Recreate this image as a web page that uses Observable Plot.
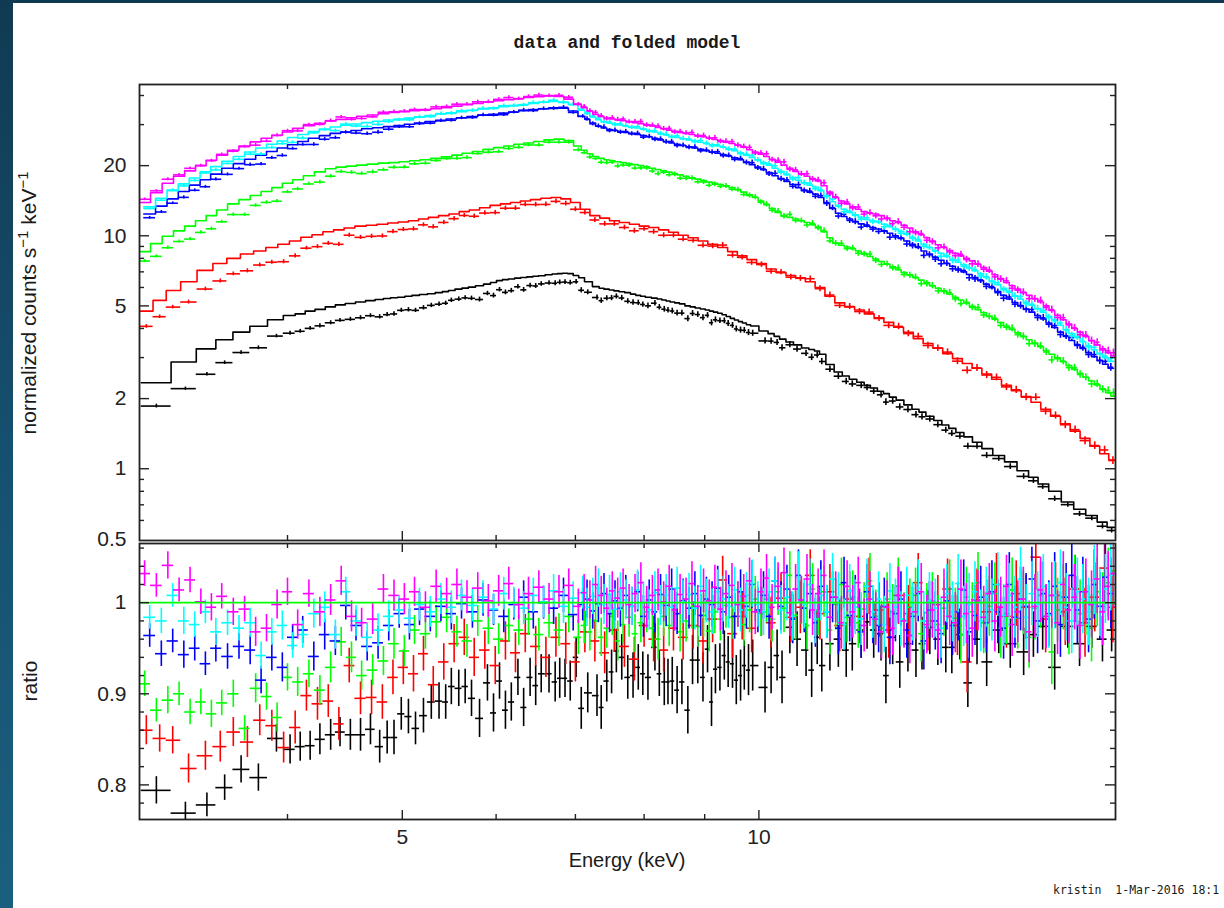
<!DOCTYPE html>
<html>
<head>
<meta charset="utf-8">
<script src="https://cdn.jsdelivr.net/npm/d3@7"></script>
<script src="https://cdn.jsdelivr.net/npm/@observablehq/plot@0.6"></script>
<style>
html, body { margin: 0; padding: 0; }
body { width: 1224px; height: 908px; overflow: hidden; position: relative;
       background: linear-gradient(180deg, #103a52 0%, #165070 50%, #1b5f7e 100%); }
#paper { position: absolute; left: 13px; top: 3px; width: 1211px; height: 905px; background: #ffffff; }
#chart { position: absolute; left: 0; top: 0; width: 1224px; height: 908px; }
#chart svg { position: absolute; left: 0; top: 0; }
.txt { position: absolute; white-space: pre; color: #1a1a1a; }
#title { left: 139px; width: 976px; top: 34px; text-align: center; font: bold 18px/18px "Liberation Mono", "DejaVu Sans Mono", monospace; }
#ylab { left: 29px; top: 303px; font: 21px/22px "Liberation Sans", Arial, sans-serif; transform: translate(-50%, -50%) rotate(-90deg); }
#ylab sup { font-size: 15px; vertical-align: 8px; line-height: 0; }
#rlab { left: 30px; top: 681px; font: 21px/22px "Liberation Sans", Arial, sans-serif; transform: translate(-50%, -50%) rotate(-90deg); }
#xlab { left: 139px; width: 976px; top: 850px; text-align: center; font: 20px/20px "Liberation Sans", Arial, sans-serif; }
#foot { left: 1053px; top: 884px; font: 11.5px/12px "DejaVu Sans Mono", monospace; }
</style>
</head>
<body>
<div id="paper"></div>
<div id="chart"></div>
<div class="txt" id="title">data and folded model</div>
<div class="txt" id="ylab">normalized counts s<sup>−1</sup> keV<sup>−1</sup></div>
<div class="txt" id="rlab">ratio</div>
<div class="txt" id="xlab">Energy (keV)</div>
<div class="txt" id="foot">kristin  1-Mar-2016 18:1</div>
<script>
// ---------------- data ----------------
// Black spectrum: bin centres (keV), folded model, data/model ratio, ratio error
const energyBlack = [
  3.10,3.28,3.42,3.54,3.655,3.78,3.915,4.02,
  4.10,4.18,4.26,4.35,4.43,4.52,4.61,4.70,4.785,4.855,4.92,4.99,
  5.06,5.13,5.21,5.29,5.37,5.44,5.50,5.58,5.65,5.72,5.81,5.90,5.97,
  6.04,6.11,6.18,6.26,6.33,6.41,6.48,6.55,6.65,6.73,6.79,6.86,6.93,7.01,7.08,7.17,
  7.30,7.36,7.44,7.51,7.58,7.66,7.75,7.83,7.91,7.98,8.06,8.17,8.24,8.32,8.38,8.45,
  8.53,8.61,8.71,8.79,8.88,8.97,9.05,9.12,9.19,9.27,9.35,9.42,9.50,9.57,9.65,9.72,9.80,9.88,
  10.12,10.24,10.36,10.46,10.62,10.77,10.96,11.08,11.2,11.3,11.48,11.67,11.85,11.99,12.2,12.34,12.5,12.68,12.8,
  12.97,13.15,13.36,13.57,13.73,13.94,14.16,14.38,14.55,14.78,15.01,15.28,15.57,15.94,16.3,16.73,17.05,17.36,17.77,18.23,18.65,19.1,19.5,19.85
];
const modelBlack = [
  2.34,2.87,3.27,3.58,3.86,4.09,4.36,4.55,
  4.62,4.75,4.83,4.95,5.05,5.12,5.2,5.27,5.33,5.38,5.42,5.45,
  5.5,5.55,5.6,5.64,5.7,5.76,5.82,5.9,5.96,6.02,6.1,6.2,6.3,
  6.42,6.48,6.52,6.58,6.62,6.66,6.7,6.74,6.8,6.85,6.88,6.9,6.88,6.75,6.6,6.35,
  6.05,5.95,5.9,5.85,5.8,5.75,5.7,5.62,5.55,5.5,5.45,5.4,5.35,5.3,5.25,5.2,
  5.15,5.1,5.0,4.95,4.9,4.85,4.8,4.75,4.7,4.65,4.58,4.5,4.42,4.35,4.28,4.22,4.15,4.1,
  3.9,3.8,3.7,3.6,3.5,3.4,3.3,3.25,3.2,3.1,2.8,2.6,2.5,2.42,2.35,2.28,2.22,2.15,2.1,
  2.03,1.97,1.88,1.8,1.75,1.68,1.61,1.54,1.49,1.43,1.37,1.3,1.22,1.14,1.07,0.98,0.92,0.86,0.8,0.72,0.67,0.63,0.59,0.56
];
const ratioBlack = [
  .794,.769,.778,.797,.817,.808,.851,.839,
  .842,.843,.850,.855,.858,.855,.855,.861,.842,.852,.852,.878,
  .875,.862,.876,.891,.892,.891,.908,.906,.908,.895,.873,.912,.879,
  .914,.882,.891,.918,.885,.918,.909,.922,.922,.913,.917,.917,.914,.940,.884,.901,
  .898,.885,.914,.924,.947,.940,.918,.920,.929,.922,.918,.951,.922,.913,.913,.914,
  .904,.913,.882,.937,.937,.918,.949,.891,.927,.929,.942,.935,.933,.915,.920,.931,.926,.931,
  .907,.929,.942,.918,.973,.960,.948,.926,.962,.931,.955,.960,.948,.955,.970,.979,.970,.966,.920,
  .962,.935,.955,.948,.955,.973,.960,.951,.951,.965,.912,.960,.935,.970,.955,.946,.965,.974,.929,.974,.955,.974,.960,.970
];
const errBlack = [
  .015,.012,.013,.014,.015,.015,.015,.016,
  .016,.016,.017,.017,.016,.017,.018,.017,.018,.018,.019,.018,
  .019,.018,.019,.019,.020,.019,.020,.020,.019,.020,.021,.020,.021,
  .020,.021,.021,.020,.021,.021,.022,.021,.021,.022,.022,.021,.022,.022,.023,.022,
  .023,.024,.023,.024,.024,.025,.024,.025,.025,.024,.025,.026,.025,.026,.025,.026,
  .026,.025,.026,.027,.026,.027,.026,.027,.027,.026,.027,.028,.027,.027,.028,.027,.028,.028,
  .028,.029,.028,.029,.029,.030,.029,.030,.030,.029,.030,.031,.030,.030,.031,.030,.031,.030,.031,
  .030,.029,.031,.030,.029,.030,.029,.028,.029,.028,.027,.028,.027,.026,.027,.026,.025,.026,.025,.024,.025,.024,.025,.024
];

// Red spectrum
const energyRed = [
  3.04,3.12,3.20,3.30,3.41,3.51,3.60,3.70,3.79,3.88,
  3.97,4.06,4.15,4.24,4.33,4.42,4.51,4.61,4.71,4.81,4.91,
  5.01,5.11,5.21,5.31,5.42,5.53,5.64,5.75,5.87,5.99,
  6.11,6.23,6.35,6.48,6.61,6.74,6.87,7.00,7.13,7.27,
  7.41,7.55,7.70,7.85,8.00,8.15,8.31,8.47,8.63,8.80,
  8.97,9.14,9.32,9.50,9.68,9.86,
  10.05,10.24,10.44,10.64,10.84,11.05,11.26,11.48,11.70,11.93,
  12.16,12.39,12.63,12.87,13.12,13.37,13.63,13.89,14.16,14.43,
  14.71,14.99,15.28,15.57,15.87,16.18,16.49,16.81,17.13,17.46,
  17.80,18.14,18.49,18.85,19.21,19.58,19.90
];
const modelRed = [
  4.75,5.28,5.82,6.35,7.1,7.6,8.0,8.35,8.6,8.9,
  9.2,9.5,9.85,10.1,10.4,10.6,10.8,11.0,11.1,11.2,11.35,
  11.45,11.6,11.8,12.0,12.2,12.4,12.7,12.9,13.2,13.5,
  13.7,13.9,14.1,14.3,14.5,14.6,14.4,13.9,13.0,12.2,
  11.9,11.6,11.4,11.2,11.0,10.85,10.6,10.35,10.05,9.8,
  9.5,9.2,8.9,8.55,8.2,7.9,
  7.6,7.2,6.95,6.75,6.6,6.35,6.0,5.5,5.15,4.95,
  4.8,4.62,4.45,4.25,4.05,3.85,3.62,3.45,3.3,3.12,
  2.97,2.83,2.7,2.55,2.42,2.28,2.16,2.04,1.93,1.8,
  1.68,1.56,1.45,1.35,1.25,1.16,1.09
];
const ratioRed = [
  .860,.851,.849,.818,.832,.842,.858,.847,.871,.865,
  .841,.863,.898,.889,.892,.867,.931,.895,.896,.891,.918,
  .929,.922,.944,.910,.935,.955,.962,.940,.948,.931,
  .958,.945,.966,.952,.940,.962,.955,.935,.968,.958,
  .945,.970,.952,.938,.975,.960,.948,.972,.962,.975,
  .958,.982,1.025,.966,.985,.972,
  .990,.978,1.005,.984,.995,1.030,.988,1.012,.975,1.004,
  .985,1.018,.992,.970,1.008,.988,1.022,.980,.998,1.015,
  .975,.935,1.003,.990,1.020,.985,1.010,.995,1.050,.982,
  1.008,.990,1.015,.978,1.006,1.038,.995
];
const errRed = [
  .016,.015,.015,.016,.016,.017,.016,.017,.017,.017,
  .017,.018,.017,.018,.018,.018,.019,.018,.019,.019,.019,
  .019,.020,.019,.020,.020,.021,.020,.021,.021,.021,
  .021,.022,.021,.022,.022,.022,.023,.022,.023,.023,
  .023,.024,.023,.024,.024,.025,.024,.025,.025,.026,
  .025,.026,.026,.027,.026,.027,
  .027,.028,.027,.028,.029,.028,.029,.030,.029,.030,
  .030,.031,.030,.031,.032,.031,.032,.033,.032,.033,
  .033,.034,.034,.035,.034,.035,.036,.035,.036,.037,
  .036,.037,.037,.038,.038,.039,.039
];

// Green and magenta spectra share one binning
const energyA = [
  3.03,3.10,3.17,3.24,3.31,3.38,3.45,3.52,
  3.60,3.68,3.76,3.84,3.92,4.00,
  4.08,4.17,4.26,4.35,4.44,4.53,4.62,4.72,4.82,4.92,
  5.02,5.12,5.23,5.34,5.45,5.56,5.67,5.79,5.91,6.03,
  6.15,6.27,6.39,6.52,6.65,6.78,6.91,7.04,
  7.12,7.20,7.28,7.36,7.44,7.52,7.60,7.68,
  7.77,7.86,7.95,8.04,8.13,8.22,8.31,8.40,8.49,8.58,
  8.68,8.78,8.88,8.98,9.08,9.18,9.28,9.38,
  9.49,9.60,9.71,9.82,9.93,
  10.04,10.15,10.26,10.38,10.50,10.62,10.74,10.86,10.98,11.10,
  11.22,11.35,11.48,11.61,11.74,11.87,12.00,12.13,12.27,12.41,
  12.55,12.69,12.83,12.97,13.11,13.26,13.41,13.56,13.71,13.86,
  14.01,14.17,14.33,14.49,14.65,14.81,14.97,15.14,15.31,15.48,
  15.65,15.82,16.00,16.18,16.36,16.54,16.72,16.91,17.10,17.29,
  17.48,17.67,17.87,18.07,18.27,18.47,18.67,18.88,19.09,19.30,
  19.51,19.72,19.92
];
const errA = [
  .014,.013,.015,.013,.014,.014,.015,.014,
  .015,.014,.016,.015,.016,.015,
  .016,.015,.016,.017,.016,.017,.016,.017,.016,.017,
  .017,.016,.017,.018,.017,.017,.018,.017,.018,.017,
  .018,.017,.018,.018,.017,.018,.018,.019,
  .020,.021,.020,.021,.022,.021,.022,.021,
  .022,.021,.022,.023,.022,.023,.022,.023,.023,.022,
  .023,.024,.023,.024,.023,.024,.024,.025,
  .024,.025,.024,.025,.025,
  .025,.026,.025,.026,.027,.026,.027,.026,.027,.028,
  .027,.028,.027,.028,.029,.028,.029,.028,.029,.030,
  .029,.030,.029,.030,.031,.030,.031,.030,.031,.032,
  .031,.032,.031,.032,.033,.032,.033,.032,.033,.034,
  .033,.034,.033,.034,.035,.034,.035,.034,.035,.036,
  .035,.036,.035,.036,.037,.036,.037,.036,.037,.038,
  .037,.038,.038
];
const modelGreen = [
  8.55,9.25,9.95,10.5,11.0,11.6,12.2,12.9,
  13.7,14.3,14.9,15.5,16.1,16.8,
  17.4,18.1,18.8,19.4,19.7,19.9,20.1,20.3,20.5,20.6,
  20.8,21.0,21.2,21.5,21.8,22.2,22.6,23.0,23.5,23.9,
  24.3,24.7,25.0,25.4,25.8,26.0,25.6,24.3,
  23.3,22.5,21.9,21.5,21.2,21.0,20.8,20.6,
  20.4,20.2,20.0,19.75,19.5,19.25,19.0,18.75,18.5,18.25,
  18.0,17.75,17.5,17.25,17.0,16.8,16.6,16.4,
  16.1,15.8,15.4,15.0,14.6,
  14.1,13.6,13.1,12.6,12.2,12.0,11.8,11.6,11.4,11.15,
  10.9,10.4,9.8,9.3,9.1,8.95,8.8,8.6,8.4,8.15,
  7.95,7.75,7.55,7.35,7.15,6.95,6.8,6.6,6.45,6.3,
  6.1,5.95,5.8,5.62,5.45,5.3,5.15,4.98,4.82,4.67,
  4.52,4.38,4.24,4.1,3.96,3.83,3.7,3.58,3.46,3.34,
  3.22,3.1,2.99,2.88,2.77,2.67,2.57,2.47,2.38,2.29,
  2.2,2.12,2.05
];
const ratioGreen = [
  .911,.882,.893,.900,.880,.891,.878,.890,
  .900,.862,.906,.897,.874,.918,
  .913,.922,.904,.929,.957,.940,.920,.926,.936,.955,
  .947,.970,.966,.979,.984,.968,.958,.980,.972,.960,
  .975,.970,.982,.965,.978,.970,.985,.962,
  .975,.968,.980,.962,.972,.985,.958,.976,
  .984,.966,.978,.990,.972,.960,.985,.975,.992,.968,
  .980,.995,.974,.986,.969,.990,.982,.997,
  .984,.998,.976,.992,1.004,
  .988,1.004,.982,1.012,.994,1.030,.986,1.002,.975,1.015,
  .991,1.012,.970,.998,1.020,.984,1.006,.978,.993,1.024,
  .985,.972,1.004,.990,1.018,.981,.995,1.008,.966,.989,
  1.002,.976,.994,1.015,.983,.965,1.006,.990,1.022,.978,
  .996,1.010,.972,.988,1.014,.983,1.000,.962,.994,1.008,
  .985,.946,.992,1.006,.980,1.016,.988,1.000,.972,1.012,
  .996,1.022,1.035
];
const modelMagenta = [
  13.9,15.3,16.8,18.0,19.0,20.0,21.1,22.2,
  23.3,24.3,25.3,26.2,27.0,27.9,
  28.9,29.7,30.4,31.1,31.6,32.1,32.6,33.0,33.4,33.8,
  34.1,34.4,34.8,35.1,35.5,36.0,36.5,37.0,37.5,38.0,
  38.4,38.8,39.2,39.5,39.8,39.6,38.6,36.8,
  35.5,34.3,33.2,32.5,32.0,31.7,31.4,31.2,
  30.9,30.6,30.3,30.0,29.6,29.2,28.8,28.4,28.1,27.8,
  27.5,27.2,26.9,26.6,26.2,25.9,25.6,25.2,
  24.9,24.5,24.0,23.4,22.9,
  22.4,21.9,21.3,20.7,20.1,19.5,18.9,18.4,18.0,17.6,
  17.2,16.4,15.4,14.6,14.1,13.7,13.3,13.0,12.7,12.5,
  12.4,12.2,11.9,11.6,11.4,11.1,10.8,10.4,10.1,9.8,
  9.5,9.15,8.9,8.65,8.4,8.2,8.0,7.8,7.55,7.3,
  7.05,6.8,6.55,6.3,6.1,5.9,5.7,5.55,5.38,5.2,
  5.0,4.78,4.56,4.36,4.18,4.0,3.86,3.7,3.55,3.4,
  3.27,3.15,3.05
];
const ratioMagenta = [
  1.032,1.019,1.041,1.014,1.025,1.001,.995,1.007,
  .990,.993,.968,.972,.998,1.012,
  .976,1.010,.990,1.003,1.024,.985,.978,.982,1.015,1.008,
  1.004,1.012,.995,1.018,1.010,1.020,1.006,1.016,1.002,1.013,
  1.021,.998,1.010,1.017,1.004,1.012,1.019,.996,
  1.011,1.003,1.020,1.008,.994,1.013,1.005,1.016,
  .998,1.010,1.022,.995,1.008,1.014,1.001,1.018,.992,1.009,
  1.004,1.021,.996,1.013,1.002,1.017,.993,1.010,
  1.019,.998,1.007,1.024,.990,
  1.012,1.027,.995,1.018,1.033,.989,1.015,1.003,1.026,.992,
  1.010,1.030,.984,1.006,.978,1.018,.990,1.022,.975,1.004,
  .982,.968,.995,.972,1.008,.980,.964,.990,1.012,.976,
  .992,.970,1.006,.985,.978,1.015,.988,.972,1.002,.984,
  1.010,.980,.995,1.018,.976,.990,1.004,.968,.996,1.014,
  .985,1.008,.978,1.020,.992,1.006,.975,1.012,.998,1.026,
  .990,1.018,1.032
];

// Blue and cyan spectra share another binning
const energyB = [
  3.06,3.13,3.20,3.27,3.34,3.41,3.48,3.56,
  3.64,3.72,3.80,3.88,3.96,4.04,
  4.12,4.21,4.30,4.39,4.48,4.57,4.67,4.77,4.87,4.97,
  5.07,5.17,5.28,5.39,5.50,5.61,5.73,5.85,5.97,6.09,
  6.21,6.33,6.45,6.58,6.71,6.84,6.97,7.10,
  7.16,7.24,7.32,7.40,7.48,7.56,7.64,7.72,
  7.81,7.90,7.99,8.08,8.17,8.26,8.35,8.44,8.53,8.63,
  8.73,8.83,8.93,9.03,9.13,9.23,9.33,9.43,
  9.54,9.65,9.76,9.87,9.98,
  10.09,10.20,10.32,10.44,10.56,10.68,10.80,10.92,11.04,11.16,
  11.28,11.41,11.54,11.67,11.80,11.93,12.06,12.20,12.34,12.48,
  12.62,12.76,12.90,13.04,13.18,13.33,13.48,13.63,13.78,13.93,
  14.09,14.25,14.41,14.57,14.73,14.89,15.05,15.22,15.39,15.56,
  15.73,15.91,16.09,16.27,16.45,16.63,16.81,17.00,17.19,17.38,
  17.57,17.77,17.97,18.17,18.37,18.57,18.77,18.98,19.19,19.40,
  19.61,19.82
];
const errB = [
  .013,.014,.013,.015,.014,.013,.015,.014,
  .014,.016,.015,.015,.016,.014,
  .015,.016,.017,.016,.016,.017,.016,.018,.017,.016,
  .017,.018,.017,.017,.018,.017,.018,.018,.017,.018,
  .017,.018,.019,.018,.018,.019,.018,.018,
  .021,.020,.021,.022,.021,.022,.021,.022,
  .021,.022,.023,.022,.023,.022,.023,.022,.023,.024,
  .023,.024,.023,.024,.025,.024,.025,.024,
  .025,.024,.025,.026,.025,
  .026,.025,.026,.027,.026,.027,.028,.027,.028,.027,
  .028,.029,.028,.029,.028,.029,.030,.029,.030,.029,
  .030,.031,.030,.031,.030,.031,.032,.031,.032,.031,
  .032,.033,.032,.033,.032,.033,.034,.033,.034,.033,
  .034,.035,.034,.035,.034,.035,.036,.035,.036,.035,
  .036,.037,.036,.037,.036,.037,.038,.037,.038,.037,
  .038,.039
];
const modelBlue = [
  12.4,13.4,14.4,15.5,16.5,17.4,18.4,19.5,
  20.4,21.3,22.2,23.0,23.8,24.6,
  25.4,26.2,26.9,27.5,27.9,28.3,28.8,29.1,29.4,29.7,
  30.1,30.5,30.9,31.3,31.7,32.1,32.5,32.9,33.2,33.6,
  34.0,34.4,34.8,35.1,35.4,35.3,34.3,32.6,
  31.6,30.5,29.6,29.0,28.6,28.3,28.0,27.8,
  27.5,27.2,26.9,26.6,26.2,25.8,25.4,25.0,24.7,24.4,
  24.1,23.8,23.5,23.2,22.9,22.6,22.3,22.0,
  21.6,21.2,20.7,20.2,19.7,
  19.2,18.7,18.1,17.6,17.1,16.6,16.1,15.7,15.4,15.1,
  14.6,13.9,13.1,12.5,12.1,11.8,11.5,11.25,11.0,10.85,
  10.7,10.5,10.25,10.0,9.75,9.5,9.2,8.9,8.6,8.35,
  8.1,7.85,7.6,7.4,7.2,7.0,6.82,6.62,6.42,6.2,
  5.98,5.76,5.55,5.35,5.17,5.0,4.85,4.7,4.55,4.4,
  4.22,4.04,3.86,3.7,3.55,3.41,3.28,3.15,3.03,2.92,
  2.81,2.7
];
const ratioBlue = [
  .964,.944,.958,.943,.950,.933,.950,.941,
  .952,.948,.915,.940,.929,.962,
  .970,.941,.965,.958,.997,.975,.952,.956,.975,.988,
  .976,.993,.985,.996,.988,.999,.990,1.003,.992,.985,
  .998,1.006,.990,1.000,.994,1.008,.987,.998,
  1.004,.991,.999,1.010,.988,1.002,.994,1.008,
  .996,1.012,.985,1.003,.990,1.009,.997,1.015,.988,1.002,
  .994,1.010,.986,1.004,.998,1.016,.990,1.006,
  .985,1.012,.996,1.020,.992,
  1.008,.985,1.024,.996,1.015,.982,1.030,.994,1.010,.978,
  1.018,.990,1.006,.972,1.022,.986,1.000,.968,1.012,.984,
  .975,.996,.962,.988,1.004,.970,.985,1.010,.958,.992,
  .980,.966,1.002,.975,.990,1.014,.968,.986,1.006,.978,
  1.012,.990,.972,1.020,.984,1.004,.996,1.026,.980,1.010,
  .988,1.018,.976,1.006,1.030,.992,1.012,.982,1.020,.996,
  1.028,1.010
];
const modelCyan = [
  13.3,14.5,15.6,16.7,17.7,18.8,19.8,20.9,
  21.9,22.9,23.8,24.7,25.5,26.4,
  27.2,28.0,28.7,29.3,29.8,30.2,30.6,31.0,31.4,31.7,
  32.0,32.4,32.8,33.3,33.7,34.1,34.6,35.0,35.4,35.8,
  36.2,36.6,37.0,37.4,37.7,37.5,36.5,34.6,
  33.6,32.4,31.5,30.9,30.5,30.2,29.9,29.6,
  29.3,29.0,28.7,28.3,27.9,27.5,27.1,26.7,26.4,26.1,
  25.8,25.5,25.2,24.9,24.6,24.3,24.0,23.6,
  23.2,22.7,22.2,21.7,21.2,
  20.6,20.1,19.5,18.9,18.3,17.8,17.3,16.9,16.5,16.2,
  15.6,14.9,14.0,13.4,13.0,12.6,12.3,12.0,11.75,11.6,
  11.45,11.2,10.95,10.7,10.45,10.15,9.85,9.5,9.2,8.9,
  8.65,8.4,8.15,7.92,7.7,7.5,7.3,7.08,6.86,6.63,
  6.4,6.17,5.95,5.73,5.53,5.35,5.19,5.03,4.87,4.7,
  4.51,4.32,4.13,3.96,3.8,3.65,3.51,3.37,3.24,3.12,
  3.0,2.89
];
const ratioCyan = [
  .984,.980,1.008,.980,.976,.990,.968,.978,
  .972,.978,.942,.968,.975,.953,
  .965,.988,.995,.965,1.012,.980,.962,.970,.985,.992,
  .983,.998,.990,1.004,.995,1.008,.997,1.006,.993,1.010,
  1.000,.994,1.008,1.001,1.013,.996,1.005,1.011,
  .995,1.007,1.016,.998,1.009,.993,1.012,1.003,
  .996,1.014,1.000,.992,1.011,.997,1.008,.995,1.016,1.001,
  1.009,.994,1.018,1.002,.990,1.012,1.004,.996,
  1.014,.992,1.008,1.021,.998,
  .990,1.012,1.024,.992,1.006,.985,1.028,.998,1.020,.982,
  1.008,.990,1.026,1.004,.976,1.013,.995,.982,1.018,.990,
  1.004,.976,1.013,.995,.982,1.008,.990,1.016,.980,1.002,
  .994,.972,1.010,.990,1.021,.985,.998,1.012,.980,1.006,
  .992,1.020,.986,1.008,.995,1.026,.984,1.010,.998,1.018,
  .986,1.008,1.022,.995,.980,1.012,1.004,.990,1.025,1.000,
  1.015,1.030
];

// axis ticks and labels
const energyDomain = [3, 20];
const countsDomain = [0.492, 44.6];
const ratioDomain = [0.762, 1.065];
const xMajorTicks = [5, 10];
const xMinorTicks = [4, 6, 7, 8, 9];
const xTickLabels = [5, 10];
const countsMajorTicks = [1, 2, 5, 10, 20];
const countsMinorTicks = [0.6, 0.7, 0.8, 0.9, 3, 4, 6, 7, 8, 9, 30, 40];
const countsTickLabels = [0.5, 1, 2, 5, 10, 20];
const ratioMajorTicks = [0.8, 0.9, 1];
const ratioMinorTicks = [0.78, 0.82, 0.84, 0.86, 0.88, 0.92, 0.94, 0.96, 0.98, 1.02, 1.04, 1.06];
const ratioTickLabels = [0.8, 0.9, 1];
const seriesColors = ["#000000", "#ff0000", "#00ff00", "#0000ff", "#00ffff", "#ff00ff"];

// ---------------- build tables ----------------
function bins(energy, model, ratio, err) {
  const n = Math.min(energy.length, model.length, ratio.length, err.length);
  const rows = [];
  for (let i = 0; i < n; i++) {
    const lo = i === 0 ? energy[0] - (energy[1] - energy[0]) / 2 : (energy[i - 1] + energy[i]) / 2;
    const hi = i === n - 1 ? energy[i] + (energy[i] - energy[i - 1]) / 2 : (energy[i] + energy[i + 1]) / 2;
    rows.push({
      e: energy[i], lo: Math.max(energyDomain[0], lo), hi: Math.min(energyDomain[1], hi),
      m: model[i], r: ratio[i], er: err[i], d: model[i] * ratio[i], ed: model[i] * err[i]
    });
  }
  return rows;
}
function steps(rows) {
  return rows.flatMap(r => [{x: r.lo, y: r.m}, {x: r.hi, y: r.m}]);
}
const series = [
  bins(energyBlack, modelBlack, ratioBlack, errBlack),
  bins(energyRed, modelRed, ratioRed, errRed),
  bins(energyA, modelGreen, ratioGreen, errA),
  bins(energyB, modelBlue, ratioBlue, errB),
  bins(energyB, modelCyan, ratioCyan, errB),
  bins(energyA, modelMagenta, ratioMagenta, errA)
].map((rows, i) => ({rows, color: seriesColors[i]}));

// ---------------- layout ----------------
const W = 1224, H = 908;
const ML = 139, MR = W - 1115;
const TOP = {t: 84, b: 540};
const BOT = {t: 543, b: 819};
const ink = "#222222";
const sw = 1.6;
const fontFamily = "Liberation Sans, Arial, sans-serif";
const plotW = W - ML - MR;

function frameTicks(plotH, yMajor, yMinor) {
  const tk = {stroke: ink, strokeWidth: 1.4};
  return [
    Plot.ruleX(xMajorTicks, {...tk, insetBottom: plotH - 9}),
    Plot.ruleX(xMajorTicks, {...tk, insetTop: plotH - 9}),
    Plot.ruleX(xMinorTicks, {...tk, insetBottom: plotH - 5}),
    Plot.ruleX(xMinorTicks, {...tk, insetTop: plotH - 5}),
    Plot.ruleY(yMajor, {...tk, insetRight: plotW - 10}),
    Plot.ruleY(yMajor, {...tk, insetLeft: plotW - 10}),
    Plot.ruleY(yMinor, {...tk, insetRight: plotW - 5}),
    Plot.ruleY(yMinor, {...tk, insetLeft: plotW - 5}),
    Plot.frame({stroke: ink, strokeWidth: 1.8})
  ];
}

// top panel: data and folded model
const topMarks = [];
for (const s of series) {
  topMarks.push(
    Plot.ruleY(s.rows, {y: "d", x1: "lo", x2: "hi", stroke: s.color, strokeWidth: sw, clip: true}),
    Plot.ruleX(s.rows, {x: "e", y1: d => d.d - d.ed, y2: d => d.d + d.ed, stroke: s.color, strokeWidth: sw, clip: true}),
    Plot.line(steps(s.rows), {x: "x", y: "y", stroke: s.color, strokeWidth: sw, clip: true})
  );
}
const topPlot = Plot.plot({
  width: W, height: H,
  marginLeft: ML, marginRight: MR, marginTop: TOP.t, marginBottom: H - TOP.b,
  style: {background: "transparent", overflow: "visible", fontFamily},
  x: {type: "log", domain: energyDomain, axis: null},
  y: {type: "log", domain: countsDomain, axis: null},
  marks: [
    ...topMarks,
    ...frameTicks(TOP.b - TOP.t, countsMajorTicks, countsMinorTicks),
    Plot.text(countsTickLabels, {y: d => d, frameAnchor: "left", text: d => String(d), textAnchor: "end",
      dx: -13, fontSize: 21, fill: ink, lineAnchor: "middle"})
  ]
});

// bottom panel: ratio
const botMarks = [];
for (const s of series) {
  botMarks.push(
    Plot.ruleY(s.rows, {y: "r", x1: "lo", x2: "hi", stroke: s.color, strokeWidth: sw, clip: true}),
    Plot.ruleX(s.rows, {x: "e", y1: d => d.r - d.er, y2: d => d.r + d.er, stroke: s.color, strokeWidth: sw, clip: true})
  );
}
const botPlot = Plot.plot({
  width: W, height: H,
  marginLeft: ML, marginRight: MR, marginTop: BOT.t, marginBottom: H - BOT.b,
  style: {background: "transparent", overflow: "visible", fontFamily},
  x: {type: "log", domain: energyDomain, axis: null},
  y: {domain: ratioDomain, axis: null},
  marks: [
    ...botMarks,
    Plot.ruleY([1], {stroke: "#00ff00", strokeWidth: 1.8}),
    ...frameTicks(BOT.b - BOT.t, ratioMajorTicks, ratioMinorTicks),
    Plot.text(ratioTickLabels, {y: d => d, frameAnchor: "left", text: d => String(d), textAnchor: "end",
      dx: -13, fontSize: 21, fill: ink, lineAnchor: "middle"}),
    Plot.text(xTickLabels, {x: d => d, frameAnchor: "bottom", text: d => String(d),
      dy: 10, fontSize: 21, fill: ink, lineAnchor: "top"})
  ]
});

document.getElementById("chart").append(topPlot, botPlot);
</script>
</body>
</html>
